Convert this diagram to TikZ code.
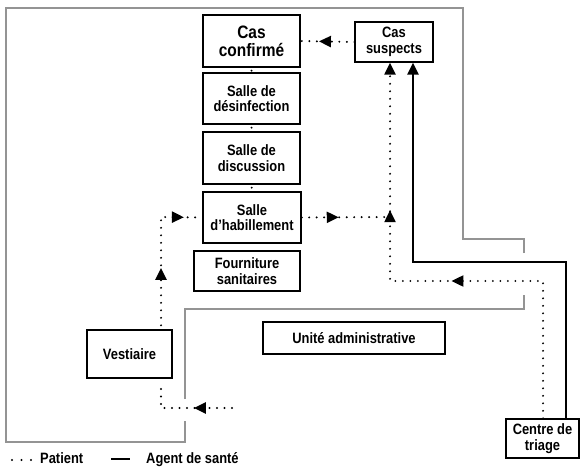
\documentclass[tikz,border=0pt]{standalone}
\usepackage{fontspec}
\usetikzlibrary{arrows.meta,decorations.markings}
\newfontfamily\plan{Liberation Sans}[FakeStretch=0.86]

\begin{document}
\begin{tikzpicture}[x=1pt,y=-1pt,
  room/.style={draw,line width=1.3pt,align=center,inner sep=0pt,
    font=\plan\bfseries\fontsize{15}{15.5}\selectfont},
  legend/.style={font=\plan\bfseries\fontsize{15}{15}\selectfont},
  wall/.style={draw=black!42,line width=2.5pt},
  patient/.style={line width=2.2pt,dash pattern=on 0pt off 7.5pt,line cap=round},
  agent/.style={line width=2.3pt},
  tip/.style={-{Triangle[length=12pt,width=11pt]}},
  tipat/.style={postaction={decorate,decoration={markings,
    mark=at position #1 with {\arrow{Triangle[length=12pt,width=11pt]}}}}},
  link/.style={patient,shorten <=3pt,shorten >=2pt}]
\useasboundingbox (0,0) rectangle (585,470);

% murs
\draw[wall] (524,253) -- (524,239) -- (463,239) -- (463,8) -- (6,8) -- (6,442) -- (185,442) -- (185,421);
\draw[wall] (185,399) -- (185,309) -- (524,309) -- (524,295);

% salles
\node[room,minimum width=97pt,minimum height=52pt,
  font=\plan\bfseries\fontsize{18}{18}\selectfont] (conf) at (251.5,41) {Cas\\confirmé};
\node[room,minimum width=78pt,minimum height=40pt] (susp) at (394,42) {Cas\\suspects};
\node[room,minimum width=97pt,minimum height=51pt] (desinf) at (251.5,98.5) {Salle de\\désinfection};
\node[room,minimum width=97pt,minimum height=52pt] (disc) at (251.5,158) {Salle de\\discussion};
\node[room,minimum width=98pt,minimum height=51pt] (hab) at (252,217.5) {Salle\\d’habillement};
\node[room,minimum width=106pt,minimum height=40pt] (fourn) at (247,271) {Fourniture\\sanitaires};
\node[room,minimum width=182pt,minimum height=32pt] (admin) at (354,338) {Unité administrative};
\node[room,minimum width=85pt,minimum height=48pt] (vest) at (129.5,354) {Vestiaire};
\node[room,minimum width=73pt,minimum height=39pt] (tri) at (542.5,438.5) {Centre de\\triage};

% circuit patient
\draw[patient,tipat=0.66] (susp.west) -- (conf.east);
\draw[link] (conf.south) -- (desinf.north);
\draw[link] (desinf.south) -- (disc.north);
\draw[link] (disc.south) -- (hab.north);

\coordinate (porte) at (232,408);
\coordinate (coin) at (161,408);
\draw[patient,tipat=0.38,shorten >=4pt] (porte) -- (coin) -- (coin |- vest.south);
\coordinate (coude) at (161,217);
\draw[patient,tipat=0.40,tipat=0.88,shorten <=4pt] (coude |- vest.north) -- (coude) -- (hab.west);
\coordinate (jonction) at (390,217);
\draw[patient,tipat=0.42] (hab.east) -- (jonction);
\coordinate (angle) at (543,281);
\coordinate (retour) at (390,281);
\draw[patient,tip,tipat=0.45,tipat=0.71] (angle |- tri.north) -- (angle) -- (retour) -- (retour |- susp.south);

% circuit agent
\coordinate (a1) at (566,262);
\coordinate (a2) at (413,262);
\draw[agent,tip] (a1 |- tri.north) -- (a1) -- (a2) -- (a2 |- susp.south);

% legende
\coordinate (lp1) at (12,460);
\coordinate (lp2) at (32,460);
\draw[patient,dash pattern=on 0pt off 9.5pt] (lp1) -- (lp2);
\node[legend,anchor=base west,inner sep=0pt] (lpat) at (40,463) {Patient};
\coordinate (la1) at (111,459);
\coordinate (la2) at (130,459);
\draw[agent] (la1) -- (la2);
\node[legend,anchor=base west,inner sep=0pt] (lag) at (146,463) {Agent de santé};
\end{tikzpicture}
\end{document}
